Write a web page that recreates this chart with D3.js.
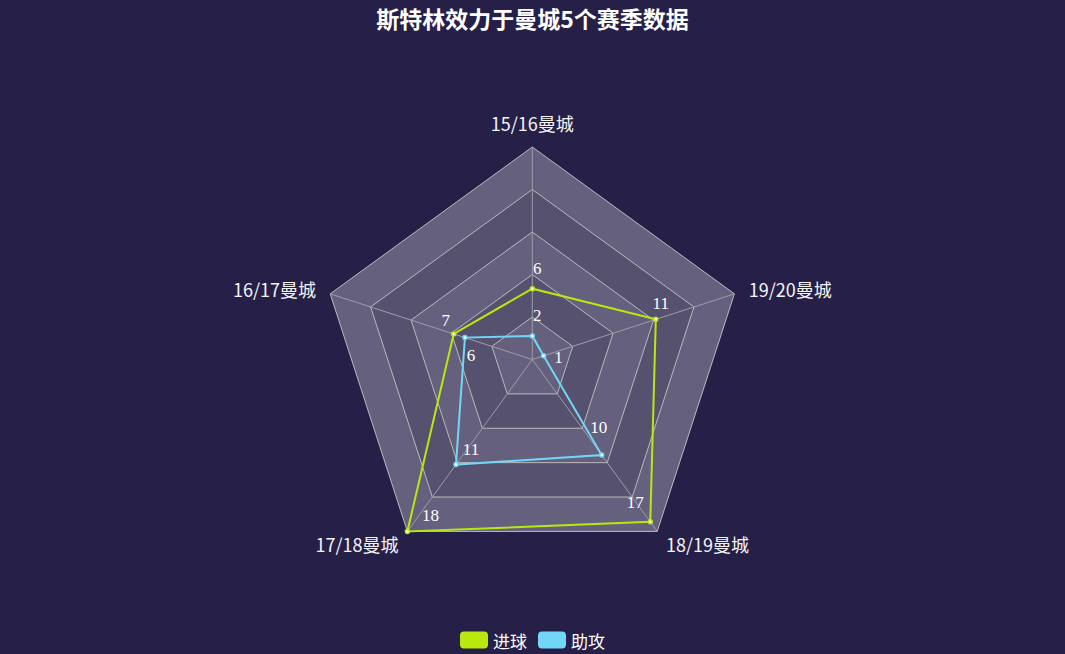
<!DOCTYPE html>
<html>
<head>
<meta charset="utf-8">
<script src="https://cdn.jsdelivr.net/npm/d3@7/dist/d3.min.js"></script>
<style>
  html, body { margin: 0; padding: 0; background: #261f48; }
  svg { display: block; }
</style>
</head>
<body>
<div id="chart"></div>
<script>
// Data
const seasons = ['15/16曼城', '16/17曼城', '17/18曼城', '18/19曼城', '19/20曼城'];
const goals = [6, 7, 18, 17, 11];
const assists = [2, 6, 11, 10, 1];
const seriesNames = ['进球', '助攻'];
const maxValue = 18;
const splitNumber = 5;

// Presentation
const width = 1065, height = 654;
const cx = 532.3, cy = 359.5, radius = 212.5;
const colors = ['#b9e80e', '#72d7f7'];
const splitAreaColors = ['rgba(250,250,250,0.3)', 'rgba(200,200,200,0.3)'];
// label nudges (dx, dy) per point so the numbers sit where the reference has them
const labelNudge = [
  [[5, -20], [-8, -13], [23, -16], [-15, -19], [5, -16]],
  [[5, -20], [6, 18], [15, -15], [-3, -28], [15, 2]]
];

const svg = d3.select('#chart').append('svg')
  .attr('width', width)
  .attr('height', height);

svg.append('rect')
  .attr('width', width).attr('height', height)
  .attr('fill', '#261f48');

// Title
svg.append('text')
  .attr('x', width / 2)
  .attr('y', 18)
  .attr('text-anchor', 'middle')
  .attr('dominant-baseline', 'central')
  .style('font-family', '"Noto Sans CJK SC", sans-serif')
  .style('font-weight', 'bold')
  .style('font-size', '23px')
  .style('fill', '#ffffff')
  .text('斯特林效力于曼城5个赛季数据');

const r = d3.scaleLinear().domain([0, maxValue]).range([0, radius]);
// axes run counter-clockwise from the top
const angle = d3.scaleLinear().domain([0, seasons.length]).range([0, -2 * Math.PI]);

function point(i, dist) {
  const a = angle(i);
  return [cx + dist * Math.sin(a), cy - dist * Math.cos(a)];
}

function ringPath(dist) {
  return 'M' + seasons.map((s, i) => point(i, dist).join(',')).join('L') + 'Z';
}

const g = svg.append('g');

// Split areas (bands between rings)
const ringLevels = d3.range(1, splitNumber + 1).map(k => maxValue * k / splitNumber);
ringLevels.forEach((v, k) => {
  const inner = k === 0 ? 0 : r(ringLevels[k - 1]);
  const outer = r(v);
  g.append('path')
    .attr('d', ringPath(outer) + (inner > 0 ? ringPath(inner) : ''))
    .attr('fill-rule', 'evenodd')
    .attr('fill', splitAreaColors[k % 2]);
});

// Split lines
ringLevels.forEach(v => {
  g.append('path')
    .attr('d', ringPath(r(v)))
    .attr('fill', 'none')
    .attr('stroke', '#bbb')
    .attr('stroke-width', 1);
});

// Axis spokes
seasons.forEach((s, i) => {
  const [x, y] = point(i, radius);
  g.append('line')
    .attr('x1', cx).attr('y1', cy)
    .attr('x2', x).attr('y2', y)
    .attr('stroke', '#a09ca8')
    .attr('stroke-width', 1);
});

// Axis names
seasons.forEach((s, i) => {
  const [x, y] = point(i, radius + 15);
  const sinA = Math.sin(angle(i));
  const cosA = Math.cos(angle(i));
  const anchor = Math.abs(sinA) < 0.01 ? 'middle' : (sinA > 0 ? 'start' : 'end');
  let dy = 0;
  if (cosA > 0.99) dy = -9;
  g.append('text')
    .attr('x', x)
    .attr('y', y + dy)
    .attr('text-anchor', anchor)
    .attr('dominant-baseline', 'central')
    .style('font-family', '"Noto Sans CJK SC", sans-serif')
    .style('font-size', '18px')
    .style('fill', '#f4f4f4')
    .text(s);
});

// Series
const line = d3.line();
[goals, assists].forEach((values, si) => {
  const pts = values.map((v, i) => point(i, r(v)));
  g.append('path')
    .attr('d', line(pts) + 'Z')
    .attr('fill', 'none')
    .attr('stroke', colors[si])
    .attr('stroke-width', 2);

  g.selectAll(null)
    .data(pts)
    .enter().append('circle')
    .attr('cx', d => d[0])
    .attr('cy', d => d[1])
    .attr('r', 2)
    .attr('fill', '#ffffff')
    .attr('stroke', colors[si])
    .attr('stroke-width', 1.5);

  g.selectAll(null)
    .data(values)
    .enter().append('text')
    .attr('x', (d, i) => pts[i][0] + labelNudge[si][i][0])
    .attr('y', (d, i) => pts[i][1] + labelNudge[si][i][1])
    .attr('text-anchor', 'middle')
    .attr('dominant-baseline', 'central')
    .style('font-family', '"Liberation Serif", serif')
    .style('font-size', '17px')
    .style('fill', '#ffffff')
    .text(d => d);
});

// Legend
const legend = svg.append('g');
let lx = 0;
seriesNames.forEach((name, i) => {
  const item = legend.append('g').attr('transform', `translate(${lx},0)`);
  item.append('rect')
    .attr('x', 0).attr('y', -8.5)
    .attr('width', 28).attr('height', 17)
    .attr('rx', 4)
    .attr('fill', colors[i]);
  const t = item.append('text')
    .attr('x', 33)
    .attr('y', 0)
    .attr('dominant-baseline', 'central')
    .style('font-family', '"Noto Sans CJK SC", sans-serif')
    .style('font-size', '17px')
    .style('fill', '#ffffff')
    .text(name);
  lx += 33 + t.node().getComputedTextLength() + 11;
});
const legendWidth = lx - 11;
legend.attr('transform', `translate(${width / 2 - legendWidth / 2},640)`);
</script>
</body>
</html>
